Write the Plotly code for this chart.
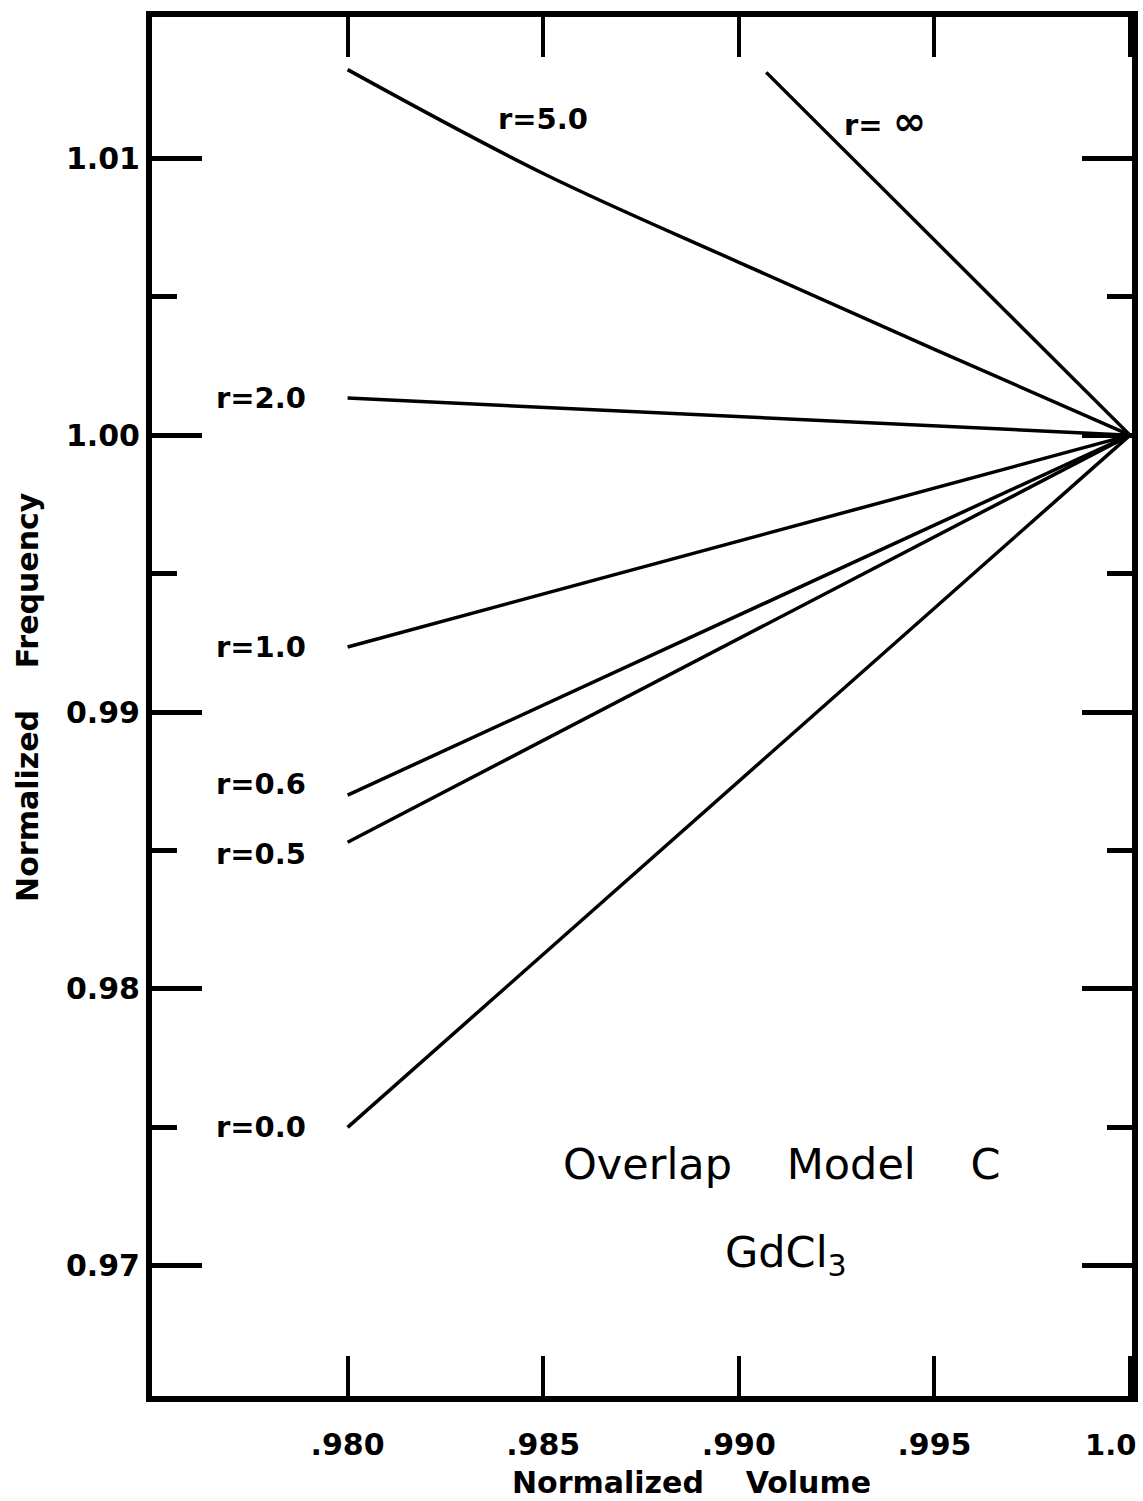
import plotly.graph_objects as go

# Normalized volume / frequency curves for GdCl3 (overlap model C)
series_names = ["r=0.0", "r=0.5", "r=0.6", "r=1.0", "r=2.0", "r=5.0", "r=\u00a0\u221e"]

vol_r00 = [0.980, 1.000]
freq_r00 = [0.9750, 1.000]
vol_r05 = [0.980, 1.000]
freq_r05 = [0.9853, 1.000]
vol_r06 = [0.980, 1.000]
freq_r06 = [0.9870, 1.000]
vol_r10 = [0.980, 1.000]
freq_r10 = [0.99235, 1.000]
vol_r20 = [0.980, 1.000]
freq_r20 = [1.00134, 1.000]
vol_r50 = [0.980, 0.985, 0.990, 0.995, 1.000]
freq_r50 = [1.0132, 1.00945, 1.00624, 1.0031, 1.000]
vol_rinf = [0.9907, 1.000]
freq_rinf = [1.0131, 1.000]

# label anchor positions (volume, frequency) for each curve
label_vol = [0.9790, 0.9790, 0.9790, 0.9790, 0.9790, 0.9850, 0.99374]
label_freq = [0.9750, 0.98487, 0.98740, 0.99235, 1.00134, 1.01141, 1.01134]
label_anchor = ["right", "right", "right", "right", "right", "center", "center"]

# the last x tick sits on the right frame; its label is right-aligned separately
x_tickvals = [0.980, 0.985, 0.990, 0.995, 1.000]
x_ticktext = [".980", ".985", ".990", ".995", ""]
x_last_label = "1.0"
y_tickvals = [0.97, 0.98, 0.99, 1.00, 1.01]
y_ticktext = ["0.97", "0.98", "0.99", "1.00", "1.01"]
y_minorvals = [0.975, 0.985, 0.995, 1.005]

FONT = "DejaVu Sans"
INK = "black"
GAP = "\u00a0" * 4

vols = [vol_r00, vol_r05, vol_r06, vol_r10, vol_r20, vol_r50, vol_rinf]
freqs = [freq_r00, freq_r05, freq_r06, freq_r10, freq_r20, freq_r50, freq_rinf]

fig = go.Figure()
for name, xs, ys in zip(series_names, vols, freqs):
    fig.add_trace(go.Scatter(
        x=xs, y=ys, mode="lines", name=name,
        line=dict(color=INK, width=3.5, shape="spline" if len(xs) > 2 else "linear"),
        showlegend=False,
    ))

for name, lx, ly, anc in zip(series_names, label_vol, label_freq, label_anchor):
    text = name.replace("\u221e", "<span style='font-size:40px'>\u221e</span>")
    fig.add_annotation(x=lx, y=ly, text=text, showarrow=False, xanchor=anc,
                       yanchor="middle",
                       font=dict(family=FONT, size=29, color=INK, weight="bold"))

fig.add_annotation(x=0.9911, y=0.97368, xref="x", yref="y", showarrow=False,
                   text="Overlap" + GAP + "Model" + GAP + "C",
                   font=dict(family=FONT, size=43, color=INK))
fig.add_annotation(x=0.9912, y=0.97040, xref="x", yref="y", showarrow=False,
                   text="GdCl<sub>3</sub>",
                   font=dict(family=FONT, size=43, color=INK))

fig.add_annotation(x=x_tickvals[-1], y=-0.0355, xref="x", yref="paper",
                   showarrow=False, text=x_last_label, xanchor="right",
                   yanchor="middle", xshift=8,
                   font=dict(family=FONT, size=29, color=INK, weight="bold"))

# axis titles
fig.add_annotation(x=0.55, y=-0.063, xref="paper", yref="paper", showarrow=False,
                   text="Normalized" + GAP + "Volume",
                   yanchor="middle",
                   font=dict(family=FONT, size=30, color=INK, weight="bold"))
fig.add_annotation(x=-0.1265, y=0.507, xref="paper", yref="paper", showarrow=False,
                   text="Normalized" + GAP + "Frequency", textangle=-90,
                   xanchor="center", yanchor="middle",
                   font=dict(family=FONT, size=30, color=INK, weight="bold"))

fig.update_xaxes(
    range=[0.975, 1.00005], showgrid=False, zeroline=False, automargin=False,
    showline=True, linecolor=INK, linewidth=6, mirror="allticks",
    ticks="inside", ticklen=40, tickwidth=4, tickcolor=INK,
    tickvals=x_tickvals, ticktext=x_ticktext, ticklabelstandoff=17,
    tickfont=dict(family=FONT, size=30, color=INK, weight="bold"),
)
fig.update_yaxes(
    range=[0.9653, 1.0151], showgrid=False, zeroline=False, automargin=False,
    showline=True, linecolor=INK, linewidth=6, mirror="allticks",
    ticks="inside", ticklen=50, tickwidth=5, tickcolor=INK,
    tickvals=y_tickvals, ticktext=y_ticktext, ticklabelstandoff=0,
    tickfont=dict(family=FONT, size=30, color=INK, weight="bold"),
    minor=dict(tickvals=y_minorvals, ticks="inside", ticklen=25,
               tickwidth=5, tickcolor=INK, showgrid=False),
)

fig.update_layout(
    width=1143, height=1501,
    margin=dict(l=152, r=11, t=17, b=105, autoexpand=False),
    paper_bgcolor="white", plot_bgcolor="white",
)

fig.write_html("out.html")
